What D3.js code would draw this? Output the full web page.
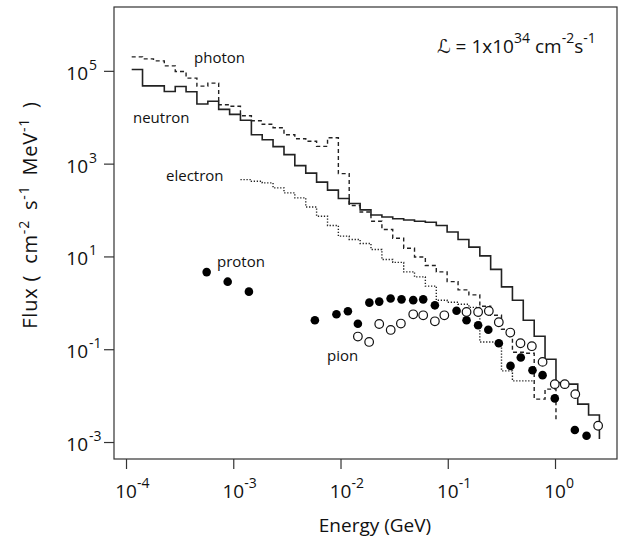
<!DOCTYPE html>
<html lang="en">
<head>
    <meta charset="UTF-8">
    <title>Background flux vs energy</title>
    <script src="https://d3js.org/d3.v7.min.js"></script>
    <style>
        body {
            margin: 0;
            background: #fff;
            font-family: "Open Sans", "DejaVu Sans", sans-serif;
        }
        text {
            fill: #111;
        }
    </style>
</head>
<body>
    <div id="chart"></div>
    <script>
        // Axis ticks (decades)
        const xTickExps = [-4, -3, -2, -1, 0];
        const yTickExps = [-3, -1, 1, 3, 5];

        // Histogram bin edges, log10(E / GeV)
        const binEdgesLog = [
            -3.947, -3.846, -3.744, -3.643, -3.541, -3.440, -3.339, -3.237, -3.136, -3.034,
            -2.933, -2.831, -2.730, -2.629, -2.527, -2.426, -2.324, -2.223, -2.121, -2.020,
            -1.919, -1.817, -1.716, -1.614, -1.513, -1.411, -1.310, -1.209, -1.107, -1.006,
            -0.904, -0.803, -0.701, -0.600, -0.499, -0.397, -0.296, -0.194, -0.093, 0.009,
            0.110, 0.212, 0.313, 0.414, 0.516
        ];

        // log10 flux per bin (photon starts at bin 0)
        const photonFlux = [
            5.301, 5.258, 5.215, 5.108, 4.985, 4.843, 4.671, 4.735, 4.269, 4.237,
            4.032, 3.925, 3.849, 3.774, 3.624, 3.538, 3.484, 3.372, 3.559, 2.785,
            2.097, 1.957, 1.759, 1.581, 1.391, 1.176, 0.989, 0.806, 0.667, 0.458,
            0.280, 0.172, -0.075, -0.269, -0.570, -1.065, -1.086, -2.075, -1.860
        ];
        const photonTail = -2.570;

        // neutron starts at bin 0
        const neutronFlux = [
            5.028, 4.677, 4.677, 4.555, 4.662, 4.548, 4.284, 4.344, 4.170, 4.062,
            3.935, 3.624, 3.516, 3.366, 3.194, 2.957, 2.796, 2.602, 2.430, 2.247,
            2.140, 2.004, 1.892, 1.849, 1.811, 1.785, 1.759, 1.738, 1.667, 1.527,
            1.366, 1.200, 1.011, 0.720, 0.344, 0.054, -0.376, -0.720, -1.215, -1.720,
            -1.753, -2.183, -2.419
        ];
        const neutronTail = -2.935;

        // electron starts at bin 10
        const electronStartBin = 10;
        const electronFlux = [
            2.656, 2.619, 2.585, 2.477, 2.370, 2.262, 2.065, 1.867, 1.667, 1.437,
            1.366, 1.280, 1.151, 0.935, 0.871, 0.667, 0.559, 0.361, 0.054, 0.011,
            -0.032, -0.097, -0.843, -0.843, -1.467, -1.682, -1.682
        ];

        // proton (filled circles), log10 E and log10 flux
        const protonE = [
            -3.248, -3.052, -2.854, -2.239, -2.038, -1.931, -1.838, -1.731, -1.639, -1.533,
            -1.431, -1.322, -1.229, -1.120, -0.918, -0.825, -0.717, -0.622, -0.524, -0.415,
            -0.319, -0.210, -0.116, -0.002, 0.185, 0.294
        ];
        const protonFlux = [
            0.662, 0.456, 0.241, -0.376, -0.247, -0.183, -0.452, 0.004, 0.026, 0.092,
            0.075, 0.058, 0.075, -0.054, -0.172, -0.376, -0.484, -0.581, -0.871, -1.359,
            -1.178, -1.452, -1.559, -2.060, -2.742, -2.865
        ];

        // pion (open circles)
        const pionE = [
            -1.838, -1.733, -1.639, -1.532, -1.437, -1.322, -1.229, -1.120, -1.032, -0.825,
            -0.717, -0.617, -0.524, -0.417, -0.322, -0.216, -0.116, -0.002, 0.091, 0.189,
            0.402
        ];
        const pionFlux = [
            -0.727, -0.843, -0.456, -0.585, -0.447, -0.247, -0.269, -0.398, -0.269, -0.198,
            -0.198, -0.176, -0.419, -0.641, -0.871, -0.935, -1.273, -1.753, -1.753, -1.968,
            -2.649
        ];

        const W = 619, H = 542;
        const plot = { left: 114, right: 617, top: 7, bottom: 459 };
        const pow10 = v => Math.pow(10, v);

        const svg = d3.select("#chart").append("svg")
            .attr("width", W)
            .attr("height", H);

        const x = d3.scaleLog()
            .domain([pow10(-4.112), pow10(0.578)])
            .range([plot.left, plot.right]);

        const y = d3.scaleLog()
            .domain([pow10(-3.366), pow10(6.376)])
            .range([plot.bottom, plot.top]);

        // ticks
        const xAxis = svg.append("g")
            .attr("transform", `translate(0, ${plot.bottom})`)
            .call(d3.axisBottom(x).tickValues(xTickExps.map(pow10)).tickFormat("").tickSize(10).tickSizeOuter(0));
        xAxis.select(".domain").remove();
        xAxis.selectAll("line").attr("stroke", "#333").attr("stroke-width", 1.2);

        const yAxis = svg.append("g")
            .attr("transform", `translate(${plot.left}, 0)`)
            .call(d3.axisLeft(y).tickValues(yTickExps.map(pow10)).tickFormat("").tickSize(10).tickSizeOuter(0));
        yAxis.select(".domain").remove();
        yAxis.selectAll("line").attr("stroke", "#333").attr("stroke-width", 1.2);

        // tick labels: 10 with superscript exponent
        xTickExps.forEach(e => {
            const px = x(pow10(e));
            svg.append("text").attr("x", px).attr("y", 498)
                .attr("text-anchor", "middle").style("font-size", "19px").text("10");
            svg.append("text").attr("x", px + 11).attr("y", 488)
                .style("font-size", "14px").text(e);
        });
        yTickExps.forEach(e => {
            const py = y(pow10(e));
            svg.append("text").attr("x", 88).attr("y", py + 9)
                .attr("text-anchor", "end").style("font-size", "19px").text("10");
            svg.append("text").attr("x", 89).attr("y", py - 1)
                .style("font-size", "14px").text(e);
        });

        // step histograms
        function stepPoints(start, vals, tail) {
            const pts = vals.map((v, i) => [binEdgesLog[start + i], v]);
            const endEdge = binEdgesLog[start + vals.length];
            pts.push([endEdge, vals[vals.length - 1]]);
            if (tail !== undefined) pts.push([endEdge, tail]);
            return pts;
        }
        const step = d3.line()
            .x(d => x(pow10(d[0])))
            .y(d => y(pow10(d[1])))
            .curve(d3.curveStepAfter);

        svg.append("path")
            .attr("d", step(stepPoints(electronStartBin, electronFlux)))
            .attr("fill", "none").attr("stroke", "#222").attr("stroke-width", 1.4)
            .attr("stroke-dasharray", "1.3,1.7");

        svg.append("path")
            .attr("d", step(stepPoints(0, photonFlux, photonTail)))
            .attr("fill", "none").attr("stroke", "#222").attr("stroke-width", 1.4)
            .attr("stroke-dasharray", "4,3");

        svg.append("path")
            .attr("d", step(stepPoints(0, neutronFlux, neutronTail)))
            .attr("fill", "none").attr("stroke", "#222").attr("stroke-width", 1.6);

        // points
        svg.append("g").selectAll("circle")
            .data(protonE.map((e, i) => [e, protonFlux[i]]))
            .join("circle")
            .attr("cx", d => x(pow10(d[0])))
            .attr("cy", d => y(pow10(d[1])))
            .attr("r", 4.3)
            .attr("fill", "#000");

        svg.append("g").selectAll("circle")
            .data(pionE.map((e, i) => [e, pionFlux[i]]))
            .join("circle")
            .attr("cx", d => x(pow10(d[0])))
            .attr("cy", d => y(pow10(d[1])))
            .attr("r", 4.3)
            .attr("fill", "#fff")
            .attr("stroke", "#111")
            .attr("stroke-width", 1.2);

        // frame
        svg.append("rect")
            .attr("x", plot.left).attr("y", plot.top)
            .attr("width", plot.right - plot.left)
            .attr("height", plot.bottom - plot.top)
            .attr("fill", "none").attr("stroke", "#333").attr("stroke-width", 1.2);

        // series labels
        const labels = [
            { t: "photon", x: 194, y: 63 },
            { t: "neutron", x: 133, y: 123 },
            { t: "electron", x: 166, y: 181 },
            { t: "proton", x: 217, y: 267 },
            { t: "pion", x: 327, y: 361 }
        ];
        svg.append("g").selectAll("text")
            .data(labels)
            .join("text")
            .attr("x", d => d.x).attr("y", d => d.y)
            .style("font-size", "15px")
            .text(d => d.t);

        // luminosity
        const lum = svg.append("text").attr("x", 437).attr("y", 53).style("font-size", "19px");
        lum.append("tspan").text("\u2112 = 1x10");
        lum.append("tspan").attr("dy", -10).style("font-size", "14px").text("34");
        lum.append("tspan").attr("dy", 10).text(" cm");
        lum.append("tspan").attr("dy", -10).style("font-size", "14px").text("-2");
        lum.append("tspan").attr("dy", 10).text("s");
        lum.append("tspan").attr("dy", -10).style("font-size", "14px").text("-1");

        // axis titles
        svg.append("text")
            .attr("x", 375).attr("y", 532)
            .attr("text-anchor", "middle")
            .style("font-size", "19px")
            .text("Energy (GeV)");

        const yt = svg.append("text")
            .attr("transform", "translate(37, 215) rotate(-90)")
            .attr("text-anchor", "middle")
            .style("font-size", "20px")
            .style("letter-spacing", "0.8px");
        yt.append("tspan").text("Flux (");
        yt.append("tspan").attr("dx", 5).text(" cm");
        yt.append("tspan").attr("dy", -8).style("font-size", "14px").text("-2");
        yt.append("tspan").attr("dy", 8).attr("dx", 4).text(" s");
        yt.append("tspan").attr("dy", -8).style("font-size", "14px").text("-1");
        yt.append("tspan").attr("dy", 8).attr("dx", 4).text(" MeV");
        yt.append("tspan").attr("dy", -8).style("font-size", "14px").text("-1");
        yt.append("tspan").attr("dy", 8).attr("dx", 4).text(" )");
    </script>
</body>
</html>
